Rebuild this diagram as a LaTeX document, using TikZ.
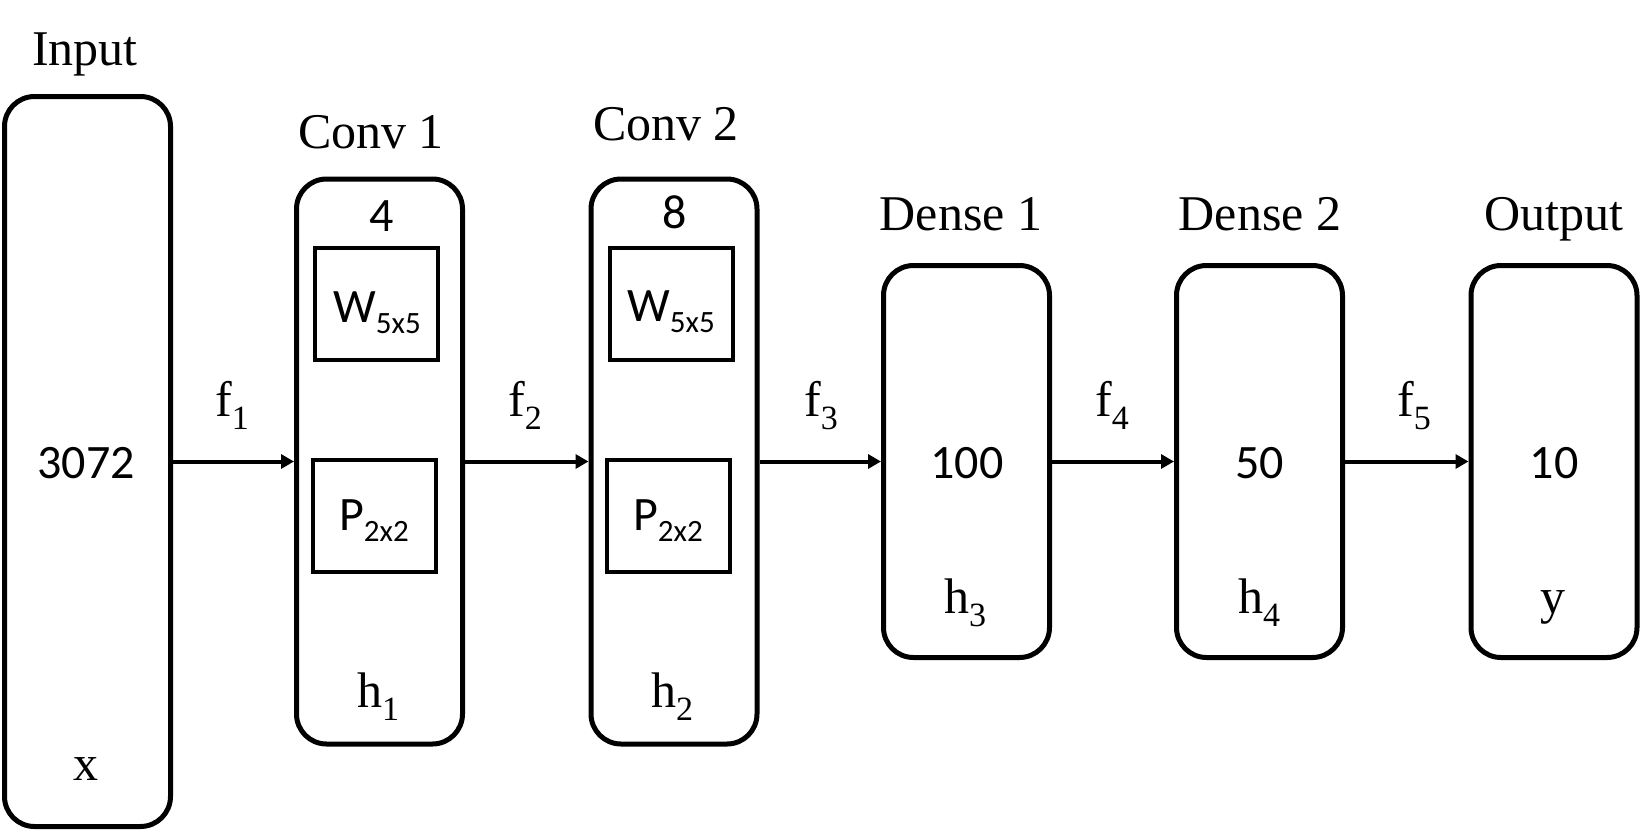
\documentclass[tikz,border=0pt]{standalone}
\usepackage{fontspec}
\setmainfont{Liberation Serif}
\newfontfamily\numfont{Carlito}
\usetikzlibrary{arrows.meta}
\newcommand{\tsub}[1]{\raisebox{-6.5pt}{\fontsize{17pt}{17pt}\selectfont #1}}
\newcommand{\csub}[1]{\raisebox{-5.5pt}{\fontsize{15.5pt}{15.5pt}\selectfont #1}}
\begin{document}
\begin{tikzpicture}[x=0.5pt,y=-0.5pt,
  layer/.style={draw, line width=2.5pt, rounded corners=15pt, inner sep=0pt, minimum width=83pt},
  inbox/.style={draw, line width=2pt, inner sep=0pt, minimum width=61.5pt, minimum height=56pt},
  lab/.style={anchor=base, inner sep=0pt, font=\fontsize{25pt}{25pt}\selectfont},
  num/.style={anchor=base, inner sep=0pt, font=\numfont\fontsize{24pt}{24pt}\selectfont},
  arr/.style={line width=2pt, -{Triangle[length=6.5pt,width=7pt]}}]
\useasboundingbox (0,0) rectangle (1651,831);
% layer boxes
\node[layer, minimum height=365pt] (in) at (87.5,461.5) {};
\node[layer, minimum height=282.5pt] (c1) at (379.5,461.5) {};
\node[layer, minimum height=282.5pt] (c2) at (674,461.5) {};
\node[layer, minimum height=196pt] (d1) at (966.5,461.5) {};
\node[layer, minimum height=196pt] (d2) at (1259.5,461.5) {};
\node[layer, minimum height=196pt] (out) at (1554,461.5) {};
% inner boxes
\node[inbox] (w1) at (376.5,304) {};
\node[inbox] (p1) at (374.5,515.5) {};
\node[inbox] (w2) at (671,304) {};
\node[inbox] (p2) at (668.5,515.5) {};
% titles
\node[lab] (tin) at (85,65) {Input};
\node[lab] (tc1) at (371,148) {Conv 1};
\node[lab] (tc2) at (666,140) {Conv 2};
\node[lab] (td1) at (961,230) {Dense 1};
\node[lab] (td2) at (1260,230) {Dense 2};
\node[lab] (tout) at (1554,230) {Output};
% numbers
\node[num] (n3072) at (86,478) {3072};
\node[num] (n4) at (382,231) {4};
\node[num] (n8) at (675,228) {8};
\node[num] (n100) at (967,478) {100};
\node[num] (n50) at (1259.5,478) {50};
\node[num] (n10) at (1554,478) {10};
% inner box texts
\node[num] (tw1) at (377,322) {W\csub{5x5}};
\node[num] (tp1) at (374,530) {P\csub{2x2}};
\node[num] (tw2) at (671,321) {W\csub{5x5}};
\node[num] (tp2) at (668,530) {P\csub{2x2}};
% variables
\node[lab] (vx) at (86,780) {x};
\node[lab] (vh1) at (378,707) {h\tsub{1}};
\node[lab] (vh2) at (672,707) {h\tsub{2}};
\node[lab] (vh3) at (965,613) {h\tsub{3}};
\node[lab] (vh4) at (1259,613) {h\tsub{4}};
\node[lab] (vy) at (1553,613) {y};
% connectors
\draw[arr] (in.east) -- (c1.west);
\draw[arr] (c1.east) -- (c2.west);
\draw[arr] (c2.east) -- (d1.west);
\draw[arr] (d1.east) -- (d2.west);
\draw[arr] (d2.east) -- (out.west);
% function labels
\node[lab] (f1) at (232,416) {f\tsub{1}};
\node[lab] (f2) at (525,416) {f\tsub{2}};
\node[lab] (f3) at (821,416) {f\tsub{3}};
\node[lab] (f4) at (1112,416) {f\tsub{4}};
\node[lab] (f5) at (1414,416) {f\tsub{5}};
\end{tikzpicture}
\end{document}
